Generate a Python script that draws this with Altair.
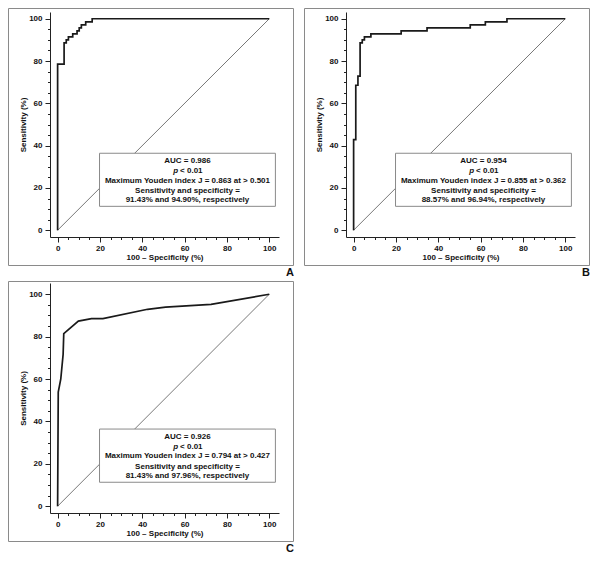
import altair as alt
import pandas as pd

# ---------------- data ----------------
fpr_a = [0, 0, 3.06, 4.08, 5.10, 7.14, 9.18, 10.20, 11.22, 13.27, 16.33, 100]
tpr_a = [0, 78.57, 88.57, 90.00, 91.43, 92.86, 94.29, 95.71, 97.14, 98.57, 100, 100]

fpr_b = [0, 0, 1.02, 2.04, 3.06, 4.08, 5.10, 8.16, 22.45, 34.69, 55.10, 62.24, 72.45, 100]
tpr_b = [0, 42.86, 68.57, 72.86, 88.57, 90.00, 91.43, 92.86, 94.29, 95.71, 97.14, 98.57, 100, 100]

fpr_c = [0, 0.3, 1.5, 2.6, 2.9, 9.8, 16.0, 21.4, 42.5, 51.0, 72.5, 100]
tpr_c = [0, 53.8, 60.1, 71.6, 81.4, 87.3, 88.5, 88.5, 92.9, 93.9, 95.2, 100]

auc_vals = ["0.986", "0.954", "0.926"]
youden_vals = ["0.863", "0.855", "0.794"]
cutoff_vals = ["0.501", "0.362", "0.427"]
sens_vals = ["91.43%", "88.57%", "81.43%"]
spec_vals = ["94.90%", "96.94%", "97.96%"]
letters = ["A", "B", "C"]

# annotation box (data units)
BOX_X = [19.8, 102.9]
BOX_Y = [11.3, 36.4]
TEXT_X = 61.35
TEXT_Y = [32.7, 27.9, 23.5, 18.5, 14.1]

# ---------------- layout ----------------
W = 229
H_TOP = 225
H_C = 230
X_DOM = [-3.6, 104.6]
Y_DOM_TOP = [-3.2, 103.2]
Y_DOM_C = [-3.2, 105.3]
FONT = "Liberation Sans"
TICKS = list(range(0, 101, 5))


def panel(k, fpr, tpr, interp, ydom, h, top_off):
    xs = alt.Scale(domain=X_DOM, nice=False, zero=False)
    ys = alt.Scale(domain=ydom, nice=False, zero=False)
    tick_size = {"condition": {"test": "datum.value % 20 === 0", "value": 5}, "value": 2.5}
    xax = alt.Axis(values=TICKS, labelExpr="datum.value % 20 === 0 ? datum.label : ''",
                   tickSize=tick_size, title="100 – Specificity (%)", labelPadding=2,
                   titlePadding=1, labelFlush=False, grid=False)
    yax = alt.Axis(values=TICKS, labelExpr="datum.value % 20 === 0 ? datum.label : ''",
                   tickSize=tick_size, title="Sensitivity (%)", labelPadding=3,
                   titlePadding=1, grid=False)

    def X(f="fpr"):
        return alt.X(f"{f}:Q", scale=xs, axis=xax)

    def Y(f="tpr"):
        return alt.Y(f"{f}:Q", scale=ys, axis=yax)

    one = alt.Data(values=[{}])
    border = alt.Chart(one).mark_rect(fillOpacity=0, stroke="#8a8a8a", strokeWidth=1).encode(
        x=alt.value(-41.5), x2=alt.value(W + 14.5),
        y=alt.value(-top_off + 0.5), y2=alt.value(h + 28.5))
    letter = alt.Chart(one).mark_text(text=letters[k], align="right", baseline="alphabetic",
                                      font=FONT, fontSize=11, fontWeight="bold",
                                      color="#111").encode(
        x=alt.value(W + 15), y=alt.value(h + 39))

    diag = alt.Chart(pd.DataFrame({"fpr": [0, 100], "tpr": [0, 100]})).mark_line(
        color="#555", strokeWidth=0.8).encode(x=X(), y=Y())
    roc_df = pd.DataFrame({"fpr": fpr, "tpr": tpr, "i": list(range(len(fpr)))})
    roc = alt.Chart(roc_df).mark_line(color="#1a1a1a", strokeWidth=1.7,
                                      interpolate=interp).encode(
        x=X(), y=Y(), order="i:Q")

    box = alt.Chart(pd.DataFrame({"fpr": [BOX_X[0]], "fpr2": [BOX_X[1]],
                                  "tpr": [BOX_Y[0]], "tpr2": [BOX_Y[1]]})).mark_rect(
        fill="white", stroke="#8a8a8a", strokeWidth=1).encode(
        x=X(), x2="fpr2:Q", y=Y(), y2="tpr2:Q")

    lines = [f"AUC = {auc_vals[k]}",
             f"Maximum Youden index J = {youden_vals[k]} at > {cutoff_vals[k]}",
             "Sensitivity and specificity =",
             f"{sens_vals[k]} and {spec_vals[k]}, respectively"]
    ys_txt = [TEXT_Y[0], TEXT_Y[2], TEXT_Y[3], TEXT_Y[4]]
    txt_df = pd.DataFrame({"fpr": [TEXT_X] * 4, "tpr": ys_txt, "t": lines})
    txt = alt.Chart(txt_df).mark_text(font=FONT, fontSize=8, fontWeight="bold",
                                      color="#111", baseline="middle").encode(
        x=X(), y=Y(), text="t:N")
    p_df = pd.DataFrame({"fpr": [TEXT_X], "tpr": [TEXT_Y[1]], "t": ["p"]})
    p_txt = alt.Chart(p_df).mark_text(font=FONT, fontSize=8, fontWeight="bold",
                                      fontStyle="italic", color="#111", align="right",
                                      baseline="middle", dx=-9.4).encode(
        x=X(), y=Y(), text="t:N")
    lt_df = pd.DataFrame({"fpr": [TEXT_X], "tpr": [TEXT_Y[1]], "t": ["< 0.01"]})
    lt_txt = alt.Chart(lt_df).mark_text(font=FONT, fontSize=8, fontWeight="bold",
                                        color="#111", align="left", baseline="middle",
                                        dx=-7.4).encode(
        x=X(), y=Y(), text="t:N")

    return alt.layer(border, diag, roc, box, txt, p_txt, lt_txt, letter).properties(
        width=W, height=h)


pa = panel(0, fpr_a, tpr_a, "step-after", Y_DOM_TOP, H_TOP, 4)
pb = panel(1, fpr_b, tpr_b, "step-after", Y_DOM_TOP, H_TOP, 4)
pc = panel(2, fpr_c, tpr_c, "linear", Y_DOM_C, H_C, 2)

chart = alt.vconcat(alt.hconcat(pa, pb, spacing=10), pc, spacing=3).properties(
    padding=0, background="white"
).configure_view(stroke=None).configure_axis(
    labelFont=FONT, labelFontSize=8, labelFontWeight="bold", labelColor="#111",
    titleFont=FONT, titleFontSize=8, titleFontWeight="bold", titleColor="#111",
    domainColor="#222", tickColor="#222", domainWidth=1, tickWidth=1,
)

chart.save("out.html", embed_options={"renderer": "svg", "actions": False})
